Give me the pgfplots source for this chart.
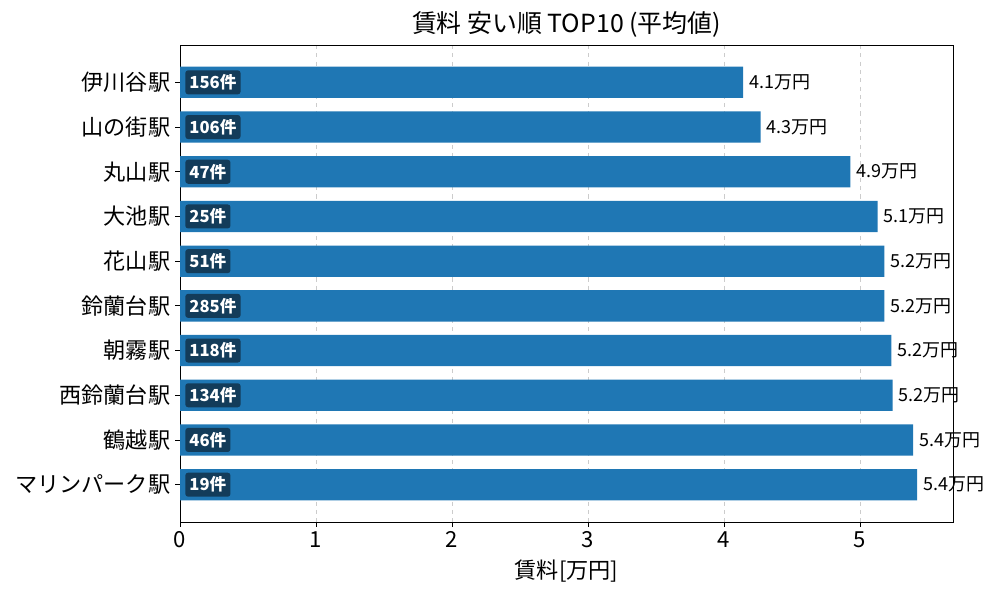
\documentclass[border=0pt]{standalone}
\usepackage{fontspec}
\setmainfont{Noto Sans CJK JP}
\usepackage{pgfplots}
\usepackage{pgfplotstable}
\pgfplotsset{compat=1.18}
\definecolor{barblue}{HTML}{1F77B4}
\definecolor{tagnavy}{HTML}{133C5A}

% idx: position from top, val: average rent (10k yen), cnt: listings
\pgfplotstableread{
idx val  cnt
0   4.14 156
1   4.27 106
2   4.93 47
3   5.13 25
4   5.18 51
5   5.18 285
6   5.23 118
7   5.24 134
8   5.39 46
9   5.42 19
}\rentdata

\begin{document}
\begin{tikzpicture}
\useasboundingbox (0,0) rectangle (720bp,432bp);
\begin{axis}[
    at={(129.6bp,56.16bp)}, anchor=south west,
    scale only axis,
    width=556.56bp, height=343.44bp,
    xmin=0, xmax=5.684,
    ymin=-0.835, ymax=9.835,
    y dir=reverse,
    xtick={0,1,2,3,4,5},
    ytick={0,...,9},
    yticklabels={伊川谷駅,山の街駅,丸山駅,大池駅,花山駅,鈴蘭台駅,朝霧駅,西鈴蘭台駅,鶴越駅,マリンパーク駅},
    tick align=outside,
    major tick length=3.5bp,
    tick style={black, line width=0.6pt},
    xtick pos=bottom, ytick pos=left,
    axis line style={line width=0.6pt},
    xmajorgrids,
    grid style={dashed, gray!40, line width=0.5pt},
    ticklabel style={font=\fontsize{16}{19}\selectfont},
    /pgf/number format/assume math mode=true,
    title={賃料 安い順 TOP10 (平均値)},
    title style={font=\fontsize{18}{21}\selectfont, yshift=-4bp},
    xlabel={賃料[万円]},
    xlabel style={font=\fontsize{16}{19}\selectfont, yshift=-2bp},
]
\addplot[xbar, bar width=0.7, fill=barblue, draw=none,
    nodes near coords={\pgfmathprintnumber[fixed,fixed zerofill,precision=1]{\pgfplotspointmeta}万円},
    nodes near coords style={font=\fontsize{13}{15}\selectfont, black, anchor=west, xshift=1bp},
    point meta=explicit]
    table[x=val, y=idx, meta=val] {\rentdata};
\addplot[only marks, mark=none,
    point meta=explicit symbolic,
    nodes near coords={\pgfplotspointmeta 件},
    nodes near coords style={font=\bfseries\fontsize{12}{14}\selectfont, text=white,
        fill=tagnavy, rounded corners=2bp, inner xsep=3bp, inner ysep=3bp, anchor=west}]
    table[x expr=0.037, y=idx, meta=cnt] {\rentdata};
\end{axis}
\end{tikzpicture}
\end{document}
